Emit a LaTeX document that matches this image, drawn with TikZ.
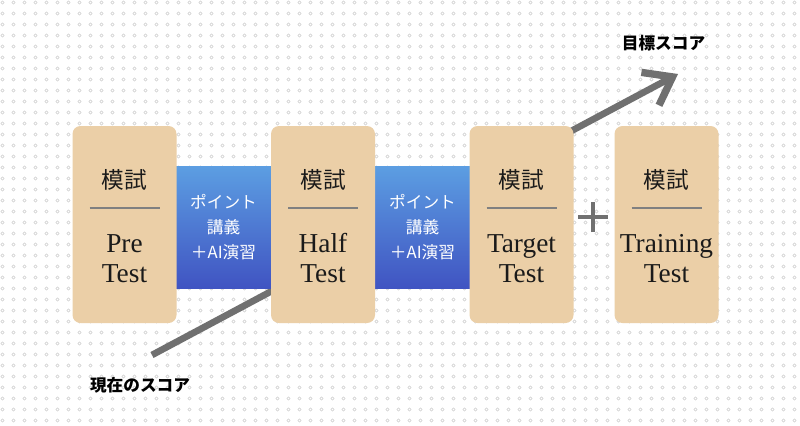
\documentclass[tikz,border=0pt]{standalone}
\usepackage{fontspec}
\usepackage{tikz}
\usetikzlibrary{arrows.meta}
\setmainfont{Liberation Serif}
\newfontfamily\jpfont{Noto Sans CJK JP}
\definecolor{mogiback}{RGB}{235,207,167}
\definecolor{pointtop}{RGB}{92,158,226}
\definecolor{pointbottom}{RGB}{64,84,194}
\definecolor{arrowgray}{RGB}{112,112,112}
\definecolor{dotgray}{RGB}{190,190,190}
\definecolor{inkblack}{RGB}{26,26,26}

\tikzset{
  mogibox/.style={fill=mogiback,rounded corners=6pt,minimum width=78pt,minimum height=147.75pt,inner sep=0pt},
  mogihead/.style={anchor=base,inner sep=0pt,text=inkblack,font=\jpfont\fontsize{17}{20}\selectfont},
  mogiword/.style={anchor=base,inner sep=0pt,text=inkblack,font=\fontsize{20.5}{24}\selectfont},
  mogirule/.style={draw=gray,line width=1.5pt},
  pointband/.style={top color=pointtop,bottom color=pointbottom,minimum width=71.25pt,minimum height=91.5pt,inner sep=0pt,text=white,align=center,font=\jpfont\fontsize{12.5}{18.75}\selectfont},
  scorearrow/.style={draw=arrowgray,line width=5pt,-{Straight Barb[length=19pt,width=28pt,line width=5.5pt]}},
  scorelabel/.style={anchor=base,inner sep=0pt,text=black,font=\jpfont\bfseries\fontsize{12.5}{15}\selectfont},
  plusline/.style={draw=arrowgray,line width=3pt}
}

\begin{document}
\begin{tikzpicture}[x=0.75pt,y=-0.75pt]
\useasboundingbox (0,0) rectangle (800,425);
\fill[white] (0,0) rectangle (800,425);
% dotted paper
\foreach \i in {0,...,72}
  \foreach \j in {0,...,38}
    \draw[dotgray,line width=0.3pt] (2.5+11*\i,2.5+11*\j) circle [radius=1.2pt];

% score arrow, behind the boxes
\coordinate (now) at (152,355);
\coordinate (goal) at (678,74);
\draw[scorearrow] (now) -- (goal);
\node (now-label) [scorelabel] at (140,391) {現在のスコア};
\node (goal-label) [scorelabel] at (663.5,49) {目標スコア};

% study between the tests
\node (band1) [pointband] at (223.5,227) {ポイント\\講義\\＋AI演習};
\node (band2) [pointband] at (422.5,227) {ポイント\\講義\\＋AI演習};

% the tests
\foreach \x/\name/\word in {124.5/pre/Pre,323/half/Half,521.5/target/Target,666.5/train/Training}
{
  \node (\name) [mogibox] at (\x,224.5) {};
  \node (\name-head) [mogihead] at (\x,188) {模試};
  \draw[mogirule] (\x-35,208) -- (\x+35,208);
  \node (\name-a) [mogiword] at (\x,252) {\word};
  \node (\name-b) [mogiword] at (\x,282) {Test};
}

% plus
\coordinate (plus) at (593,217);
\draw[plusline] ([xshift=-11.25pt]plus) -- ([xshift=11.25pt]plus);
\draw[plusline] ([yshift=-11.25pt]plus) -- ([yshift=11.25pt]plus);
\end{tikzpicture}
\end{document}
